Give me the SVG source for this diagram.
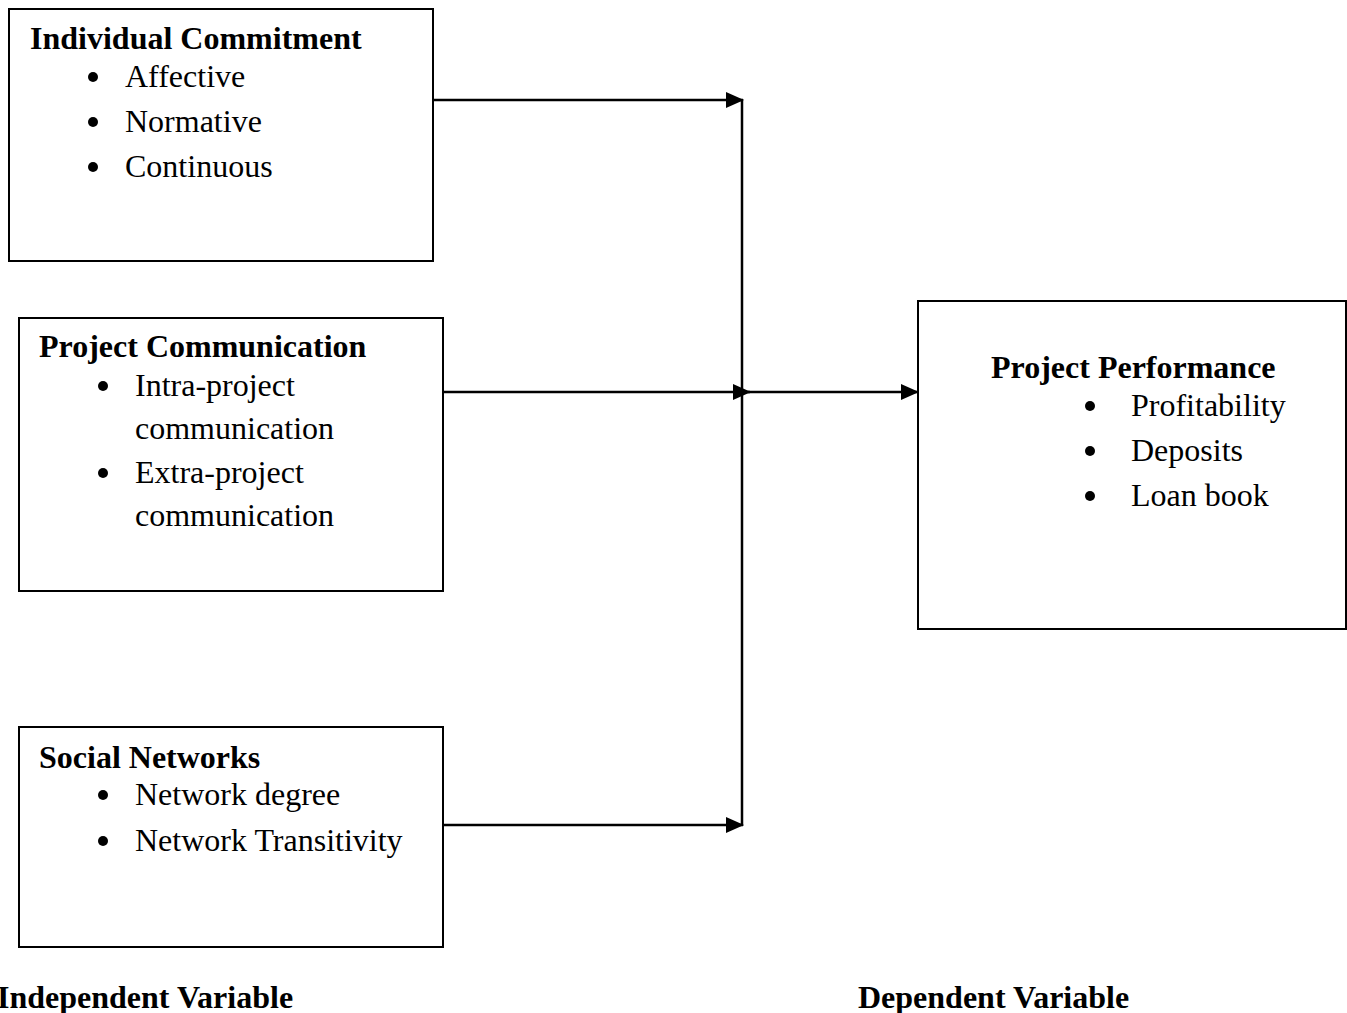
<svg xmlns="http://www.w3.org/2000/svg" width="1347" height="1013" viewBox="0 0 1347 1013">
<style>
.box{fill:#fff;stroke:#000;stroke-width:2}
.t{font-family:"Liberation Serif","Times New Roman",serif;font-size:32px;fill:#000}
.b{font-weight:bold}
.dot{fill:#000}
.ln{stroke:#000;stroke-width:2.5;fill:none}
</style>
<defs>
<marker id="ah2" markerWidth="18" markerHeight="16" refX="17" refY="8" orient="auto" markerUnits="userSpaceOnUse" viewBox="0 0 18 16">
<path d="M0,0 L18,8 L0,16 z" fill="#000"/>
</marker>
</defs>
<rect width="1347" height="1013" fill="#fff"/>
<g id="connectors">
<line class="ln" x1="742" y1="99" x2="742" y2="826"/>
<line class="ln" x1="433" y1="100" x2="743" y2="100" marker-end="url(#ah2)"/>
<line class="ln" x1="443" y1="392" x2="750" y2="392" marker-end="url(#ah2)"/>
<line class="ln" x1="748" y1="392" x2="918" y2="392" marker-end="url(#ah2)"/>
<line class="ln" x1="443" y1="825" x2="743" y2="825" marker-end="url(#ah2)"/>
</g>
<g id="individual-commitment">
<rect class="box" x="9" y="9" width="424" height="252"/>
<text class="t b" x="30" y="49">Individual Commitment</text>
<circle class="dot" cx="93" cy="77" r="5"/><text class="t" x="125" y="87">Affective</text>
<circle class="dot" cx="93" cy="122" r="5"/><text class="t" x="125" y="132">Normative</text>
<circle class="dot" cx="93" cy="167" r="5"/><text class="t" x="125" y="177">Continuous</text>
</g>
<g id="project-communication">
<rect class="box" x="19" y="318" width="424" height="273"/>
<text class="t b" x="39" y="357">Project Communication</text>
<circle class="dot" cx="103" cy="386" r="5"/><text class="t" x="135" y="396">Intra-project</text>
<text class="t" x="135" y="439">communication</text>
<circle class="dot" cx="103" cy="473" r="5"/><text class="t" x="135" y="483">Extra-project</text>
<text class="t" x="135" y="526">communication</text>
</g>
<g id="social-networks">
<rect class="box" x="19" y="727" width="424" height="220"/>
<text class="t b" x="39" y="768">Social Networks</text>
<circle class="dot" cx="103" cy="795" r="5"/><text class="t" x="135" y="805">Network degree</text>
<circle class="dot" cx="103" cy="841" r="5"/><text class="t" x="135" y="851">Network Transitivity</text>
</g>
<g id="project-performance">
<rect class="box" x="918" y="301" width="428" height="328"/>
<text class="t b" x="991" y="378">Project Performance</text>
<circle class="dot" cx="1090" cy="406" r="5"/><text class="t" x="1131" y="416">Profitability</text>
<circle class="dot" cx="1090" cy="451" r="5"/><text class="t" x="1131" y="461">Deposits</text>
<circle class="dot" cx="1090" cy="496" r="5"/><text class="t" x="1131" y="506">Loan book</text>
</g>
<g id="labels">
<text class="t b" x="-3" y="1008">Independent Variable</text>
<text class="t b" x="858" y="1008">Dependent Variable</text>
</g>
</svg>
